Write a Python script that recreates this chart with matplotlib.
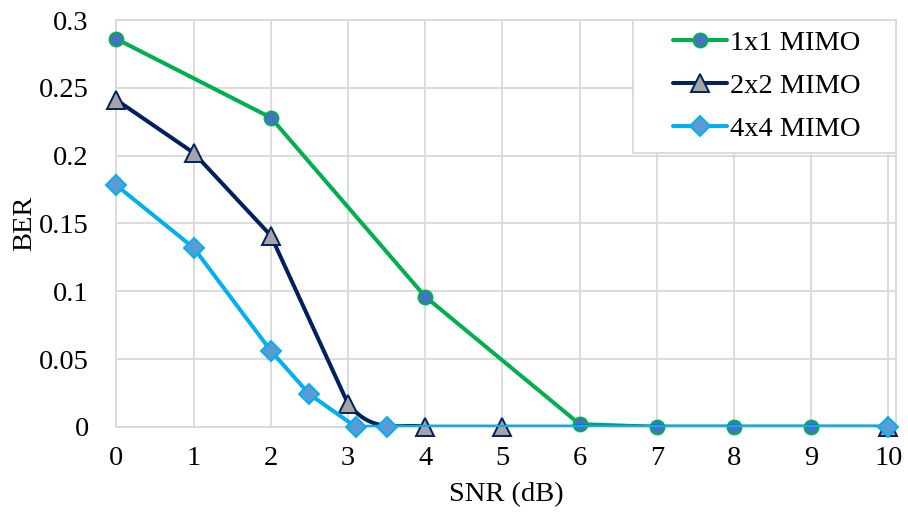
import numpy as np
import matplotlib
matplotlib.use("Agg")
import matplotlib.pyplot as plt
from matplotlib.lines import Line2D
from matplotlib.patches import Rectangle

# ---- data ----
x_1x1 = [0, 2, 4, 6, 7, 8, 9, 10]
ber_1x1 = [0.286, 0.228, 0.096, 0.002, 0.0, 0.0, 0.0, 0.0]

x_2x2 = [0, 1, 2, 3, 4, 5, 10]
ber_2x2 = [0.241, 0.202, 0.141, 0.017, 0.0, 0.0, 0.0]

x_4x4 = [0, 1, 2, 2.5, 3.1, 3.5, 10]
ber_4x4 = [0.178, 0.132, 0.056, 0.024, 0.0, 0.0, 0.0]

labels = ["1x1 MIMO", "2x2 MIMO", "4x4 MIMO"]
xticks = list(range(0, 11))
yticks = [0, 0.05, 0.1, 0.15, 0.2, 0.25, 0.3]
ytick_labels = ["0", "0.05", "0.1", "0.15", "0.2", "0.25", "0.3"]


def excel_line(xs, ys, smooth_idx=(), n=40):
    """Straight segments; segments whose start index is in smooth_idx are
    drawn with Excel-style (Catmull-Rom / Bezier) smoothing."""
    P = np.column_stack([xs, ys]).astype(float)
    out = [P[:1]]
    t = np.linspace(0, 1, n)[:, None]
    for i in range(len(P) - 1):
        p1, p2 = P[i], P[i + 1]
        if i in smooth_idx:
            p0 = P[i - 1] if i > 0 else P[i]
            p3 = P[i + 2] if i + 2 < len(P) else P[i + 1]
            b1 = p1 + (p2 - p0) / 6.0
            b2 = p2 - (p3 - p1) / 6.0
            seg = ((1 - t) ** 3) * p1 + 3 * ((1 - t) ** 2) * t * b1 + 3 * (1 - t) * t ** 2 * b2 + t ** 3 * p2
            out.append(seg[1:])
        else:
            out.append(p2[None, :])
    c = np.vstack(out)
    return c[:, 0], c[:, 1]


plt.rcParams['font.family'] = ['Liberation Serif', 'DejaVu Serif']
FS = 20.5
fig = plt.figure(figsize=(9.08, 5.13), dpi=100)
ax = fig.add_axes([0.1283, 0.168, 0.8585, 0.793])

grid_c = "#D9D9D9"
series = [
    (x_1x1, ber_1x1, "#00B050", "o", "#4472C4", 10, ()),
    (x_2x2, ber_2x2, "#002060", "^", "#A5A5A5", 12.5, (3,)),
    (x_4x4, ber_4x4, "#00B0F0", "D", "#5B9BD5", 10, ()),
]
handles = []
for k, ((xs, ys, col, mk, fc, ms, sm), lab) in enumerate(zip(series, labels)):
    lx, ly = excel_line(xs, ys, sm)
    ax.plot(lx, ly, color=col, lw=2.9, solid_capstyle='round', solid_joinstyle='round', zorder=3 + k)
    ax.plot(xs, ys, ls='none', marker=mk, ms=ms, mfc=fc, mec=col, mew=1.4, zorder=3.5 + k,
            clip_on=False)
    handles.append(Line2D([], [], color=col, lw=2.9, marker=mk, ms=ms, mfc=fc, mec=col, mew=1.4,
                          solid_capstyle='round'))

ax.set_xlim(0, 10.1)
ax.set_ylim(0, 0.3)
ax.set_xticks(xticks)
ax.set_yticks(yticks)
ax.set_yticklabels(ytick_labels)
ax.grid(True, color=grid_c, lw=1.3, zorder=0)
ax.set_axisbelow(True)
for s in ax.spines.values():
    s.set_color(grid_c)
    s.set_linewidth(1.3)
ax.tick_params(length=0, labelsize=FS, colors="#000000")
ax.tick_params(axis='y', pad=20)
ax.tick_params(axis='x', pad=14)
ax.set_xlabel("SNR (dB)", fontsize=FS, labelpad=8)
ax.set_ylabel("BER", fontsize=FS, labelpad=1)

# legend frame (Excel style box)
frame = Rectangle((0.6626, 0.673), 0.3374, 0.327, transform=ax.transAxes,
                  facecolor='white', edgecolor=grid_c, lw=1.3, zorder=9, clip_on=False)
ax.add_patch(frame)
leg = ax.legend(handles, labels, loc='center', bbox_to_anchor=(0.8345, 0.838), borderaxespad=0,
                borderpad=0, fontsize=FS, frameon=False, handlelength=1.9, handletextpad=0.1,
                labelspacing=0.6)
leg.set_zorder(10)

fig.savefig("out.png", dpi=100)
